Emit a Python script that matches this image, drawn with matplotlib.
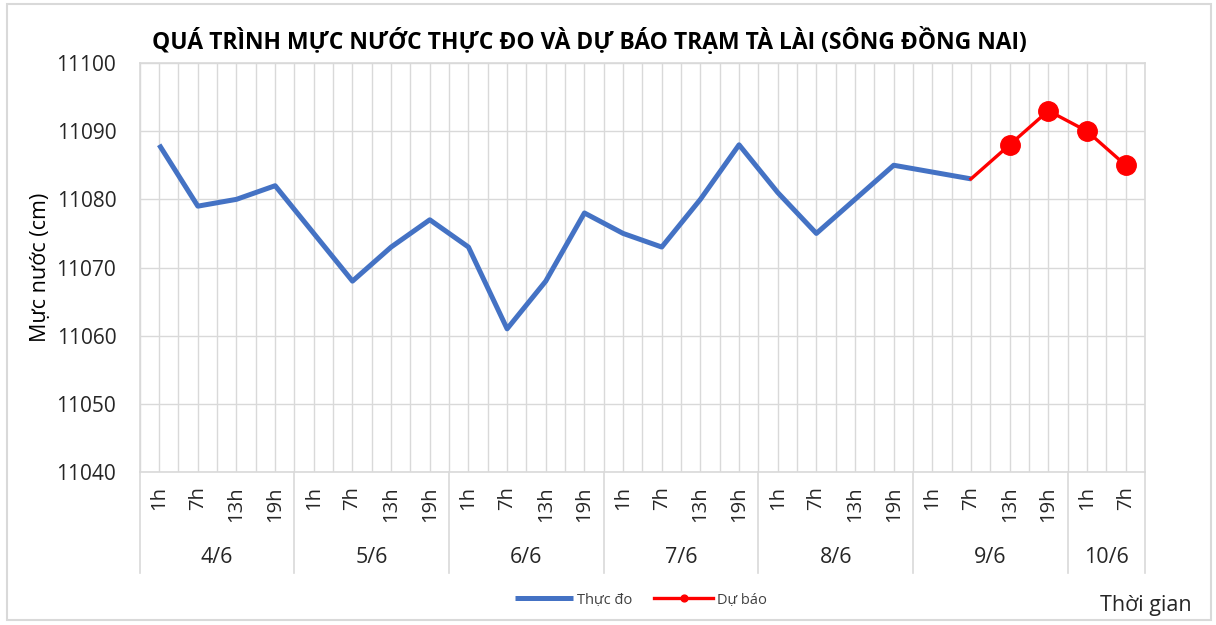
import matplotlib.pyplot as plt
from matplotlib.lines import Line2D
from matplotlib.patches import Rectangle

plt.rcParams['font.family'] = ['Open Sans', 'DejaVu Sans']

# Dữ liệu mực nước trạm Tà Lài
days = ['4/6', '5/6', '6/6', '7/6', '8/6', '9/6', '10/6']
hours = [['1h', '7h', '13h', '19h'], ['1h', '7h', '13h', '19h'], ['1h', '7h', '13h', '19h'],
         ['1h', '7h', '13h', '19h'], ['1h', '7h', '13h', '19h'], ['1h', '7h', '13h', '19h'],
         ['1h', '7h']]
thuc_do = [11088, 11079, 11080, 11082, 11075, 11068, 11073, 11077, 11073, 11061, 11068,
           11078, 11075, 11073, 11080, 11088, 11081, 11075, 11080, 11085, 11084, 11083]
du_bao = [11083, 11088, 11093, 11090, 11085]
du_bao_start = 21  # du bao bat dau tu 9/6 7h

hour_labels = [h for day in hours for h in day]
n = len(hour_labels)
x_all = list(range(n))

fig = plt.figure(figsize=(12.16, 6.25), dpi=100)
ax = fig.add_axes([0.115, 0.2448, 0.8266, 0.6544])

grid_c = '#D9D9D9'
txt_c = '#262626'
ax.plot(x_all[:len(thuc_do)], thuc_do, color='#4472C4', lw=3.6, solid_capstyle='butt',
        label='Thực đo', zorder=3)
x_db = x_all[du_bao_start:du_bao_start + len(du_bao)]
ax.plot(x_db, du_bao, color='#FF0000', lw=2.4, marker='o', markersize=14,
        markevery=list(range(1, len(du_bao))), label='Dự báo', zorder=4)

ax.set_xlim(-0.5, n - 0.5)
ax.set_ylim(11040, 11100)
ax.set_yticks(range(11040, 11101, 10))
ax.set_xticks([i * 0.5 - 0.5 for i in range(2 * n + 1)])
ax.set_xticklabels([])
ax.tick_params(axis='x', length=0)
ax.tick_params(axis='y', length=0, labelsize=15, pad=17, labelcolor=txt_c)
ax.grid(True, color=grid_c, lw=1)
for s in ax.spines.values():
    s.set_color(grid_c)
    s.set_linewidth(1.2)

tr = ax.get_xaxis_transform()
for i, h in enumerate(hour_labels):
    ax.text(i, -0.035, h, rotation=90, ha='center', va='top', fontsize=14.5,
            color=txt_c, transform=tr)

pos = 0
bounds = [-0.5]
for d, hs in zip(days, hours):
    mid = pos + (len(hs) - 1) / 2
    ax.text(mid, -0.208, d, ha='center', va='center', fontsize=15.5, color=txt_c, transform=tr)
    pos += len(hs)
    bounds.append(pos - 0.5)
for b in bounds:
    ax.add_line(Line2D([b, b], [0, -0.247], color=grid_c, lw=1.2, transform=tr, clip_on=False))

ax.set_ylabel('Mực nước (cm)', fontsize=15.5, color='black')
ax.yaxis.set_label_coords(-0.088, 0.5)

fig.text(0.485, 0.935, 'QUÁ TRÌNH MỰC NƯỚC THỰC ĐO VÀ DỰ BÁO TRẠM TÀ LÀI (SÔNG ĐỒNG NAI)',
         ha='center', va='center', fontsize=16.5, fontweight='bold')
fig.text(0.942, 0.032, 'Thời gian', ha='center', va='center', fontsize=15.5, color=txt_c)

leg = fig.legend(loc='center', bbox_to_anchor=(0.527, 0.04), ncol=2, frameon=False,
                 fontsize=10.5, handlelength=4, columnspacing=1.5, handletextpad=0.3,
                 markerscale=0.35)
for t in leg.get_texts():
    t.set_color('#404040')

fig.patches.append(Rectangle((0.006, 0.008), 0.99, 0.985, transform=fig.transFigure,
                             fill=False, edgecolor='#D9D9D9', lw=1.5))

fig.savefig('out.png', dpi=100)
